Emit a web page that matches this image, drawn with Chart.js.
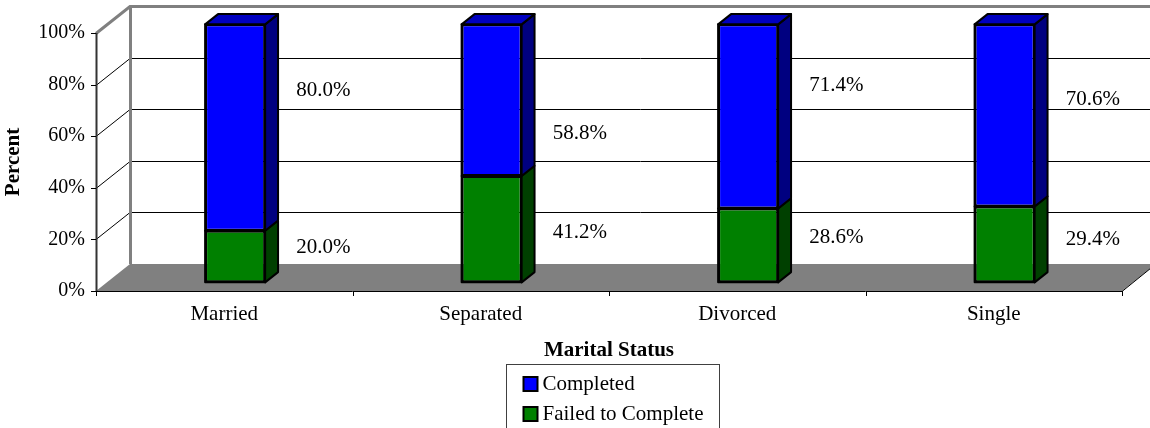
<!DOCTYPE html>
<html>
<head>
<meta charset="utf-8">
<script src="https://cdn.jsdelivr.net/npm/chart.js"></script>
<style>
  body { margin: 0; background: #fff; }
</style>
</head>
<body>
<canvas id="myChart" width="1150" height="428"></canvas>

<script>
const categories = ['Married', 'Separated', 'Divorced', 'Single'];
const completed = [80.0, 58.8, 71.4, 70.6];
const failed = [20.0, 41.2, 28.6, 29.4];
const yTicks = [0, 20, 40, 60, 80, 100];

// height (in axis %) where the value labels sit in the original
const completedLabelAt = [77.9, 61.2, 79.5, 74.4];
const failedLabelAt = [16.7, 22.5, 20.9, 19.8];

const SERIF = '"Liberation Serif", "Times New Roman", serif';
const DEPTH = { x: 34, y: -27 };   // floor / wall depth
const BAR_FRONT = 0.32;            // bar front face, as part of the depth
const BAR_DEPTH = 0.38;

const sideColors = ['#004000', '#000080'];
const topColors = ['#006000', '#0000C0'];

function line(ctx, pts, color, width) {
  ctx.beginPath();
  ctx.moveTo(pts[0][0], pts[0][1]);
  for (let i = 1; i < pts.length; i++) ctx.lineTo(pts[i][0], pts[i][1]);
  ctx.strokeStyle = color;
  ctx.lineWidth = width;
  ctx.stroke();
}

const box3d = {
  id: 'box3d',
  beforeDatasetsDraw(chart) {
    const ctx = chart.ctx;
    const { left, right, top, bottom } = chart.chartArea;
    const y = chart.scales.y;
    const x = chart.scales.x;
    const dx = DEPTH.x, dy = DEPTH.y;

    ctx.save();
    // floor
    ctx.beginPath();
    ctx.moveTo(left, bottom);
    ctx.lineTo(left + dx, bottom + dy);
    ctx.lineTo(right + dx, bottom + dy);
    ctx.lineTo(right, bottom);
    ctx.closePath();
    ctx.fillStyle = '#808080';
    ctx.fill();

    // gridlines on the side and back walls
    yTicks.forEach(v => {
      if (v === 0) return;
      const yy = Math.round(y.getPixelForValue(v)) + 0.5;
      if (v === 100) {
        line(ctx, [[left, yy], [left + dx, yy + dy], [right + dx + 10, yy + dy]], '#808080', 3);
      } else {
        line(ctx, [[left, yy], [left + dx, yy + dy], [right + dx + 10, yy + dy]], '#000', 1);
      }
    });
    // back wall edge
    line(ctx, [[left + dx + 0.5, top + dy], [left + dx + 0.5, bottom + dy]], '#808080', 3);

    // front axis and ticks
    line(ctx, [[left + 0.5, top], [left + 0.5, bottom]], '#333', 2);
    yTicks.forEach(v => {
      const yy = Math.round(y.getPixelForValue(v)) + 0.5;
      line(ctx, [[left - 5, yy], [left, yy]], '#000', 1);
    });
    line(ctx, [[left, bottom + 0.5], [right, bottom + 0.5], [right + dx, bottom + dy]], '#000', 1);
    const n = categories.length;
    for (let i = 0; i <= n; i++) {
      let xx;
      if (i === 0) xx = left;
      else if (i === n) xx = right;
      else xx = (x.getPixelForValue(i - 1) + x.getPixelForValue(i)) / 2;
      xx = Math.round(xx) + 0.5;
      line(ctx, [[xx, bottom], [xx, bottom + 5]], '#000', 1);
    }
    ctx.restore();

    // bars are drawn on a plane set back into the depth
    ctx.save();
    ctx.translate(DEPTH.x * BAR_FRONT, DEPTH.y * BAR_FRONT);
  },
  afterDatasetsDraw(chart) {
    const ctx = chart.ctx;
    const bx = DEPTH.x * BAR_DEPTH, by = DEPTH.y * BAR_DEPTH;
    const last = chart.data.datasets.length - 1;

    chart.data.datasets.forEach((ds, di) => {
      const meta = chart.getDatasetMeta(di);
      meta.data.forEach(el => {
        const { x, y, base, width } = el.getProps(['x', 'y', 'base', 'width'], true);
        const xl = x - width / 2, xr = x + width / 2;
        ctx.lineWidth = 2;
        ctx.strokeStyle = '#000';
        ctx.lineJoin = 'round';
        // front outline
        ctx.strokeRect(xl, y, width, base - y);
        // right side
        ctx.beginPath();
        ctx.moveTo(xr, y);
        ctx.lineTo(xr + bx, y + by);
        ctx.lineTo(xr + bx, base + by);
        ctx.lineTo(xr, base);
        ctx.closePath();
        ctx.fillStyle = sideColors[di];
        ctx.fill();
        ctx.stroke();
        // top
        if (di === last) {
          ctx.beginPath();
          ctx.moveTo(xl, y);
          ctx.lineTo(xl + bx, y + by);
          ctx.lineTo(xr + bx, y + by);
          ctx.lineTo(xr, y);
          ctx.closePath();
          ctx.fillStyle = topColors[di];
          ctx.fill();
          ctx.stroke();
        }
      });
    });
    ctx.restore();

    // value labels
    const yScale = chart.scales.y;
    ctx.save();
    ctx.font = '21px ' + SERIF;
    ctx.fillStyle = '#000';
    ctx.textAlign = 'center';
    ctx.textBaseline = 'middle';
    chart.data.datasets.forEach((ds, di) => {
      const meta = chart.getDatasetMeta(di);
      const at = di === 0 ? failedLabelAt : completedLabelAt;
      meta.data.forEach((el, i) => {
        ctx.fillText(ds.data[i].toFixed(1) + '%', el.x + 99, yScale.getPixelForValue(at[i]));
      });
    });
    ctx.restore();
  },
  afterDraw(chart) {
    // legend box under the axis title
    const ctx = chart.ctx;
    const { left, right } = chart.chartArea;
    const items = [chart.data.datasets[1], chart.data.datasets[0]];
    const w = 213, cx = (left + right) / 2 + 3;
    const lx = Math.round(cx - w / 2) + 0.5, ly = 364.5;
    ctx.save();
    ctx.strokeStyle = '#404040';
    ctx.lineWidth = 1;
    ctx.strokeRect(lx, ly, w, 80);
    ctx.font = '21px ' + SERIF;
    ctx.textBaseline = 'middle';
    ctx.textAlign = 'left';
    items.forEach((ds, i) => {
      const cy = ly + 19.5 + i * 30;
      ctx.fillStyle = ds.backgroundColor;
      ctx.fillRect(lx + 17, cy - 7, 14, 14);
      ctx.strokeStyle = '#000';
      ctx.lineWidth = 2;
      ctx.strokeRect(lx + 17, cy - 7, 14, 14);
      ctx.fillStyle = '#000';
      ctx.fillText(ds.label, lx + 36, cy);
    });
    ctx.restore();
  }
};

new Chart(document.getElementById('myChart'), {
  type: 'bar',
  data: {
    labels: categories,
    datasets: [{
      label: 'Failed to Complete',
      data: failed,
      backgroundColor: '#008000',
      borderColor: '#000',
      borderWidth: 2,
      borderSkipped: false,
      clip: false
    }, {
      label: 'Completed',
      data: completed,
      backgroundColor: '#0000FF',
      borderColor: '#000',
      borderWidth: 2,
      borderSkipped: false,
      clip: false
    }]
  },
  options: {
    responsive: false,
    animation: false,
    devicePixelRatio: 1,
    categoryPercentage: 1,
    barPercentage: 0.234,
    layout: { padding: { top: 33, right: 28, left: 0, bottom: 0 } },
    plugins: {
      legend: { display: false },
      tooltip: { enabled: false }
    },
    scales: {
      x: {
        stacked: true,
        grid: { display: false, drawTicks: false },
        border: { display: false },
        ticks: { color: '#000', font: { family: SERIF, size: 21 }, padding: 11, maxRotation: 0, autoSkip: false },
        title: {
          display: true,
          text: 'Marital Status',
          color: '#000',
          font: { family: SERIF, size: 21, weight: 'bold' },
          padding: { top: 0, bottom: 65 }
        },
        afterFit(scale) { scale.height = 137; }
      },
      y: {
        stacked: true,
        min: 0,
        max: 100,
        grid: { display: false, drawTicks: false },
        border: { display: false },
        ticks: {
          stepSize: 20,
          padding: 11,
          color: '#000',
          font: { family: SERIF, size: 20 },
          callback: v => v + '%'
        },
        title: {
          display: true,
          text: 'Percent',
          color: '#000',
          font: { family: SERIF, size: 21, weight: 'bold' },
          padding: { top: 1, bottom: 0 }
        },
        afterFit(scale) { scale.width = 96; }
      }
    }
  },
  plugins: [box3d]
});
</script>
</body>
</html>
